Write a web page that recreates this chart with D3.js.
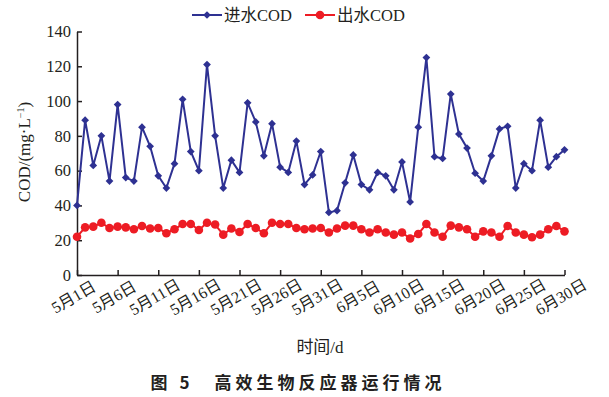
<!DOCTYPE html>
<meta charset="utf-8">
<style>
body { margin: 0; background: #fff; }
.tick text, .lbl { font-family: "Liberation Serif", "Noto Sans CJK SC", serif; fill: #231f20; }
.domain, .tick line { stroke: #231f20; stroke-width: 1.5; }
.title { font-family: "Noto Sans CJK SC", sans-serif; font-weight: bold; fill: #231f20; }
</style>
<body>
<div id="chart"></div>
<script src="https://cdn.jsdelivr.net/npm/d3@7"></script>
<script>
var width = 609,
    height = 397;

// days from 5月1日 (0) to 6月30日 (60)
var days = d3.range(0, 61);
var inflow = [40, 89, 63, 80, 54, 98, 56, 54, 85, 74,
  57, 50, 64, 101, 71, 60, 121, 80, 50, 66,
  59, 99, 88, 68.5, 87, 62, 59, 77, 52, 57.5,
  71, 36, 37, 53, 69, 52, 49, 59, 57, 49,
  65, 42, 85, 125, 68, 67, 104, 81, 73, 58.5,
  54, 68.5, 84, 85.5, 50, 64, 60, 89, 62, 68, 72];
var outflow = [22, 27.4, 27.8, 30, 27, 27.8, 27.4, 26.3, 28.2, 26.7,
  27, 24, 26.3, 29.3, 29.3, 25.9, 30, 29, 23.2, 26.7,
  24.7, 29.3, 27, 24, 30, 29.3, 29.3, 27, 26.3, 26.7,
  27, 24.4, 26.7, 28.4, 28.4, 26.3, 24.4, 26.3, 24.4, 23.2,
  24.4, 21, 23.6, 29.3, 24.4, 22, 28.4, 27.4, 26.3, 22,
  25.1, 24.4, 22, 28.2, 24.4, 23.2, 21.7, 23.2, 26.3, 28.2, 25.1];
var tickDays = [0, 5, 10, 15, 20, 25, 30, 35, 40, 45, 50, 55, 60];
var tickLabels = ["5月1日", "5月6日", "5月11日", "5月16日", "5月21日", "5月26日", "5月31日",
  "6月5日", "6月10日", "6月15日", "6月20日", "6月25日", "6月30日"];
var yTicks = [0, 20, 40, 60, 80, 100, 120, 140];

var blue = "#2e3192",
    red = "#ed1c24";

var svg = d3.select("#chart").append("svg")
    .attr("width", width)
    .attr("height", height);

var x = d3.scaleLinear().domain([0, 60]).range([77, 564.5]);
var y = d3.scaleLinear().domain([0, 140]).range([275, 31.5]);

svg.append("g")
    .attr("transform", "translate(0,275)")
    .call(d3.axisBottom(x).tickValues(tickDays).tickSize(-5).tickSizeOuter(0).tickFormat(function(d, i) { return tickLabels[i]; }))
    .call(function(g) {
      g.selectAll(".tick text")
        .attr("font-size", 16)
        .attr("text-anchor", "middle")
        .attr("transform", "translate(-4,22) rotate(-30)")
        .attr("y", 0)
        .attr("dy", "0.35em");
    });

svg.append("g")
    .attr("transform", "translate(77,0)")
    .call(d3.axisLeft(y).tickValues(yTicks).tickSize(-5).tickSizeOuter(0).tickPadding(6))
    .call(function(g) { g.selectAll(".tick text").attr("font-size", 16.5); });

var line = d3.line()
    .x(function(d, i) { return x(days[i]); })
    .y(function(d) { return y(d); });

svg.append("path")
    .datum(outflow)
    .attr("fill", "none")
    .attr("stroke", red)
    .attr("stroke-width", 2)
    .attr("d", line);

svg.selectAll(".dot")
    .data(outflow)
    .enter().append("circle")
    .attr("cx", function(d, i) { return x(days[i]); })
    .attr("cy", function(d) { return y(d); })
    .attr("r", 4.3)
    .attr("fill", red);

svg.append("path")
    .datum(inflow)
    .attr("fill", "none")
    .attr("stroke", blue)
    .attr("stroke-width", 2)
    .attr("d", line);

var diamond = d3.symbol().type(d3.symbolSquare).size(30);

svg.selectAll(".dia")
    .data(inflow)
    .enter().append("path")
    .attr("transform", function(d, i) { return "translate(" + x(days[i]) + "," + y(d) + ") rotate(45)"; })
    .attr("d", diamond)
    .attr("fill", blue);

// legend
var legend = svg.append("g").attr("transform", "translate(0,15)");
legend.append("line").attr("x1", 192).attr("x2", 222).attr("stroke", blue).attr("stroke-width", 2);
legend.append("path").attr("transform", "translate(207,0) rotate(45)")
    .attr("d", diamond).attr("fill", blue);
legend.append("text").attr("class", "lbl").attr("x", 224).attr("y", 6).attr("font-size", 16.5).text("进水COD");
legend.append("line").attr("x1", 305).attr("x2", 335).attr("stroke", red).attr("stroke-width", 2);
legend.append("circle").attr("cx", 320).attr("r", 4.3).attr("fill", red);
legend.append("text").attr("class", "lbl").attr("x", 337).attr("y", 6).attr("font-size", 16.5).text("出水COD");

svg.append("text")
    .attr("class", "lbl")
    .attr("transform", "translate(30,152) rotate(-90)")
    .attr("text-anchor", "middle")
    .attr("font-size", 17)
    .html("COD/(mg·L<tspan dy='-6' font-size='10'>−1</tspan><tspan dy='6'>)</tspan>");

svg.append("text")
    .attr("class", "lbl")
    .attr("x", 320)
    .attr("y", 353)
    .attr("text-anchor", "middle")
    .attr("font-size", 17)
    .text("时间/d");

svg.append("text")
    .attr("class", "title")
    .attr("x", 298)
    .attr("y", 389)
    .attr("text-anchor", "middle")
    .attr("font-size", 17)
    .attr("letter-spacing", 4)
    .text("图 5　高效生物反应器运行情况");
</script>
</body>
